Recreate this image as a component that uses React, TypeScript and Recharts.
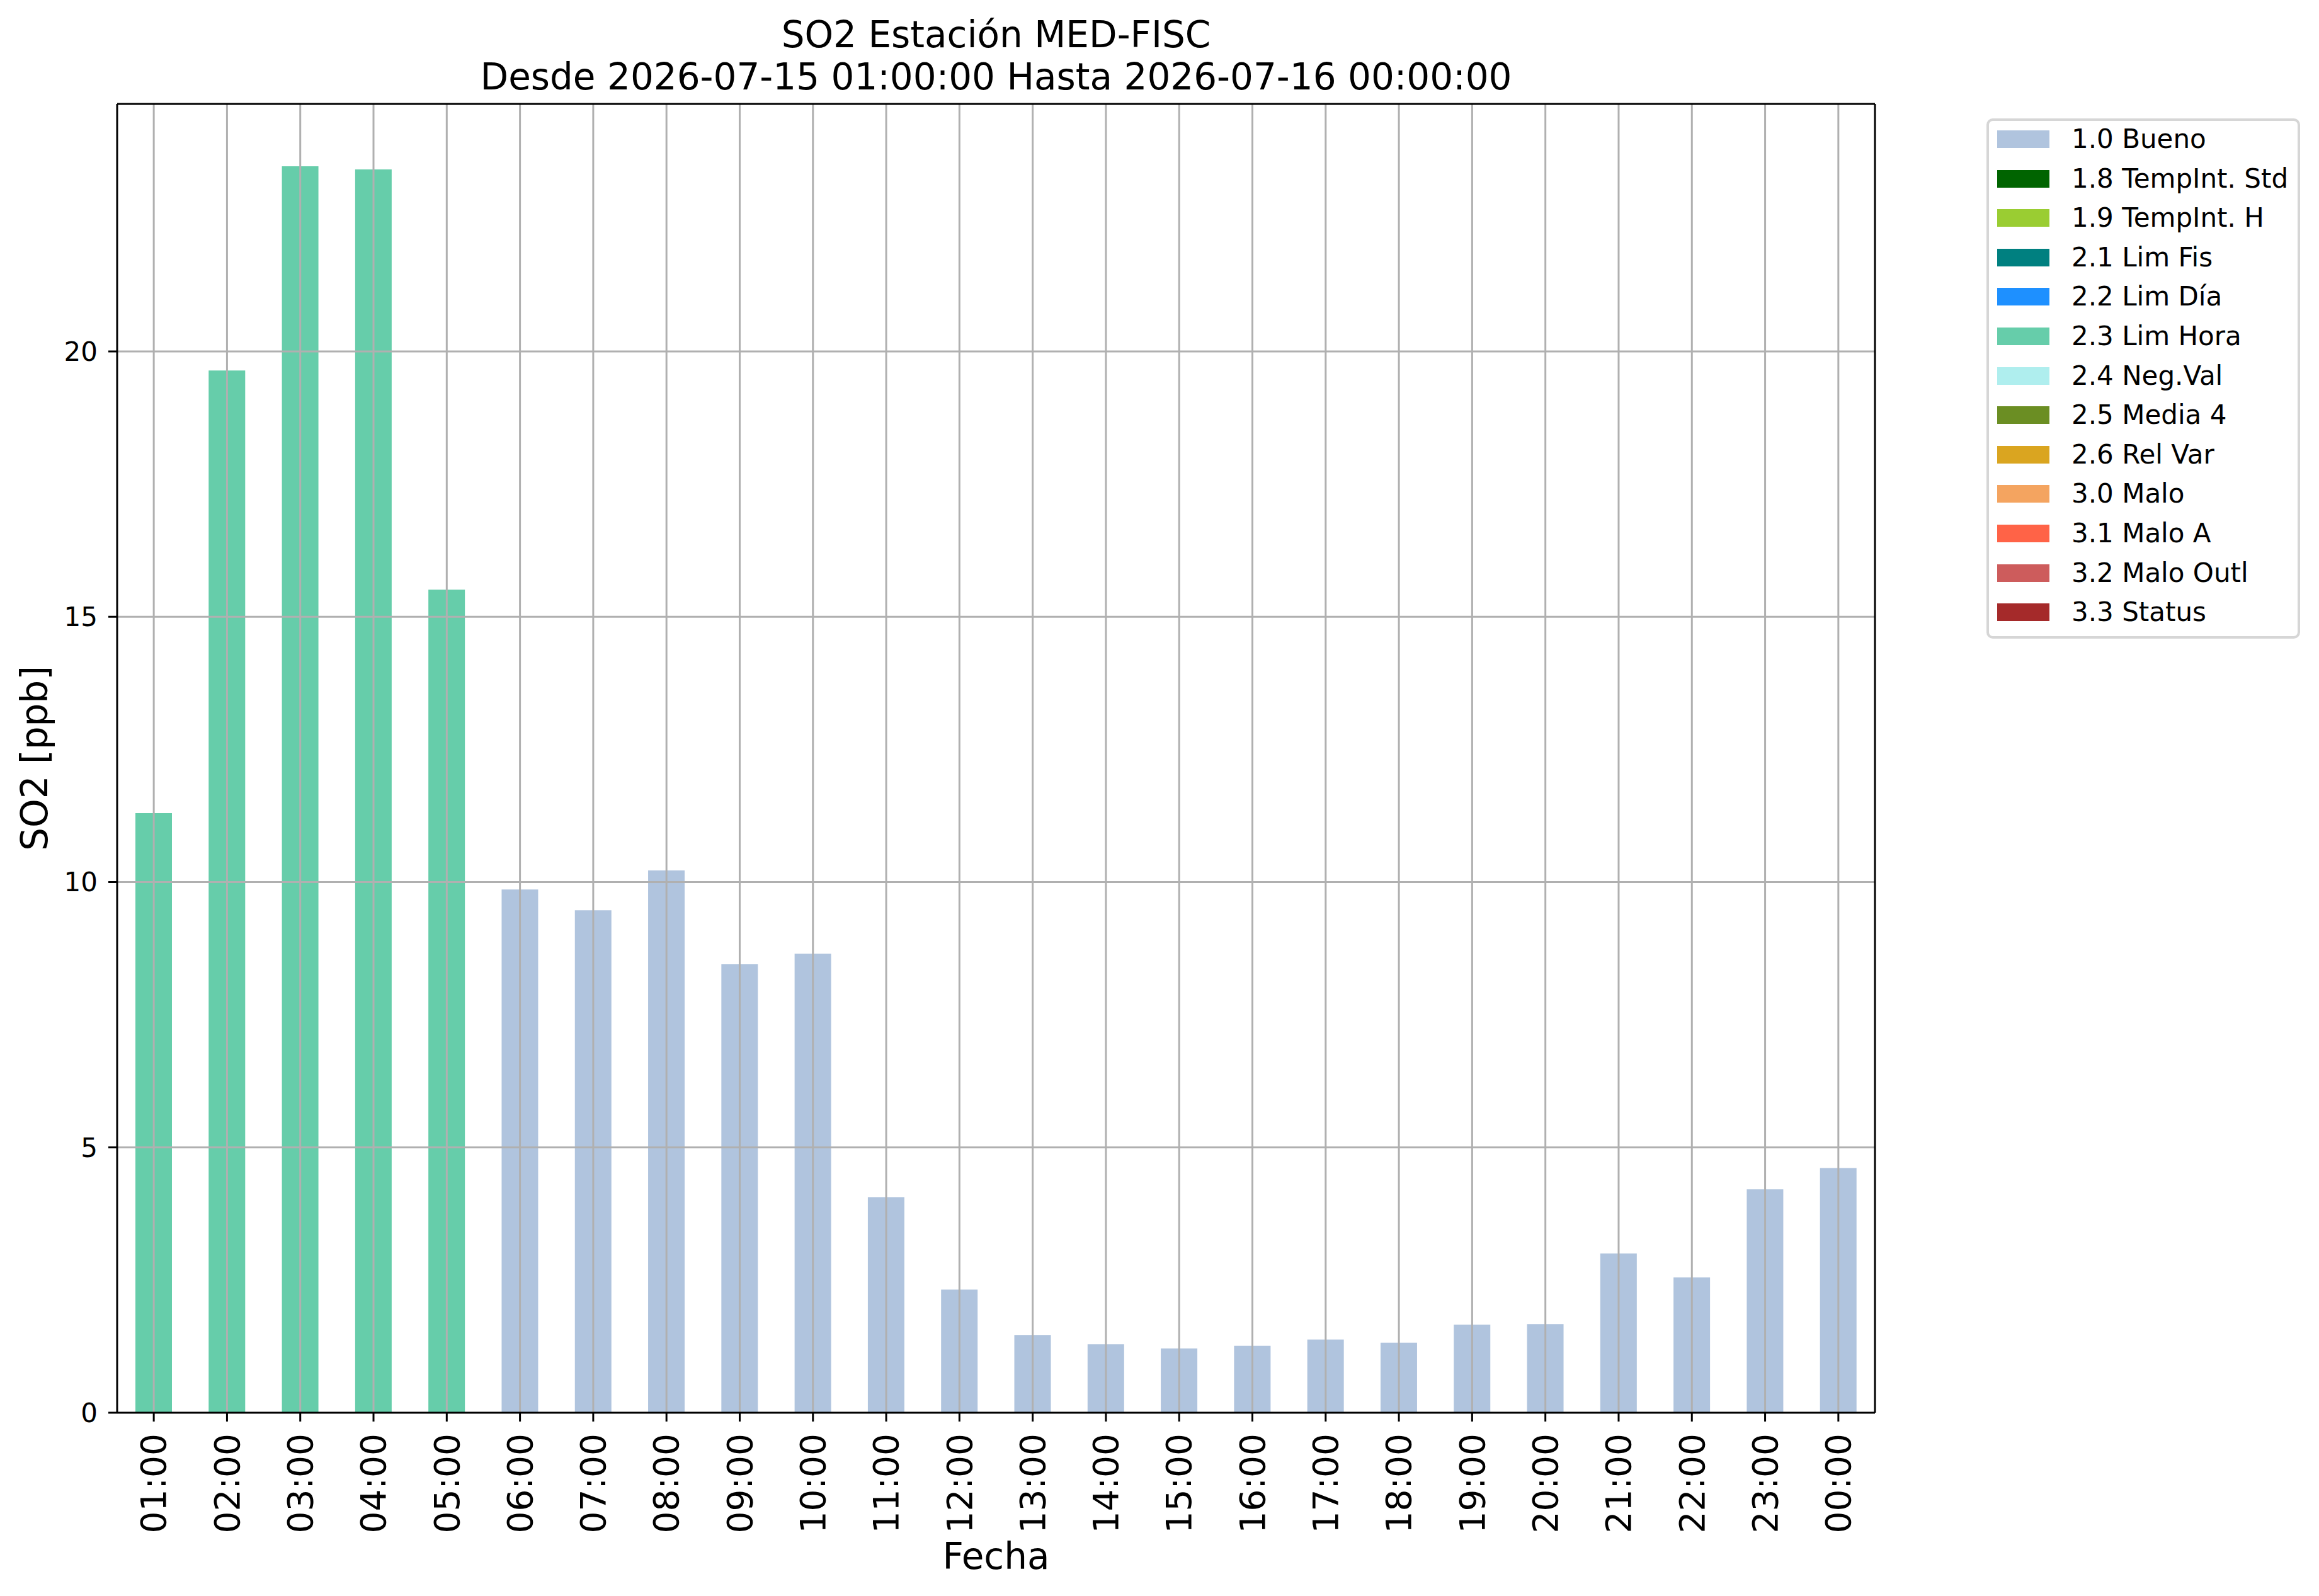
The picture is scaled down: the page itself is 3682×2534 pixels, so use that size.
import React from 'react';
import { BarChart, Bar, XAxis, YAxis, ReferenceLine, Legend } from 'recharts';

// ---------- data ----------
const horas = [
  '01:00', '02:00', '03:00', '04:00', '05:00', '06:00', '07:00', '08:00',
  '09:00', '10:00', '11:00', '12:00', '13:00', '14:00', '15:00', '16:00',
  '17:00', '18:00', '19:00', '20:00', '21:00', '22:00', '23:00', '00:00',
];
const so2Valores = [
  11.3, 19.64, 23.49, 23.43, 15.51, 9.86, 9.47, 10.22,
  8.45, 8.65, 4.06, 2.32, 1.46, 1.29, 1.21, 1.26,
  1.38, 1.32, 1.66, 1.67, 3.0, 2.55, 4.21, 4.61,
];
const banderas = [
  '2.3', '2.3', '2.3', '2.3', '2.3', '1.0', '1.0', '1.0',
  '1.0', '1.0', '1.0', '1.0', '1.0', '1.0', '1.0', '1.0',
  '1.0', '1.0', '1.0', '1.0', '1.0', '1.0', '1.0', '1.0',
];
const codigosBandera = ['1.0', '1.8', '1.9', '2.1', '2.2', '2.3', '2.4', '2.5', '2.6', '3.0', '3.1', '3.2', '3.3'];
const etiquetasBandera = [
  '1.0 Bueno', '1.8 TempInt. Std', '1.9 TempInt. H', '2.1 Lim Fis', '2.2 Lim Día',
  '2.3 Lim Hora', '2.4 Neg.Val', '2.5 Media 4', '2.6 Rel Var', '3.0 Malo',
  '3.1 Malo A', '3.2 Malo Outl', '3.3 Status',
];
const coloresBandera = [
  '#B0C4DE', '#006400', '#9ACD32', '#008080', '#1E90FF', '#66CDAA', '#AFEEEE',
  '#6B8E23', '#DAA520', '#F4A460', '#FF6347', '#CD5C5C', '#A52A2A',
];
const yTicks = [0, 5, 10, 15, 20];
const titulo1 = 'SO2 Estación MED-FISC';
const titulo2 = 'Desde 2026-07-15 01:00:00 Hasta 2026-07-16 00:00:00';
const etiquetaX = 'Fecha';
const etiquetaY = 'SO2 [ppb]';

// ---------- derived table ----------
const yMax = Math.max(...so2Valores) * 1.05;
const datos = horas.map((hora, i) => {
  const fila: Record<string, string | number> = { hora };
  codigosBandera.forEach((c, k) => {
    fila[`q${k}`] = banderas[i] === c ? so2Valores[i] : 0;
  });
  return fila;
});

// ---------- layout ----------
const W = 3682;
const H = 2534;
const PLOT_LEFT = 186;
const PLOT_TOP = 165;
const PLOT_RIGHT = 2977;
const PLOT_BOTTOM = 2243;
const FONT = 'DejaVu Sans, Verdana, sans-serif';
const BIG = 58;
const XTICK = 55;
const SMALL = 42;
const GRID = '#b0b0b0';

const XTick = (props: any) => {
  const { x, y, payload } = props;
  return (
    <text
      x={x}
      y={y}
      transform={`rotate(-90 ${x} ${y})`}
      textAnchor="end"
      dy="0.35em"
      fontSize={XTICK}
      fontFamily={FONT}
      fill="#000"
    >
      {payload.value}
    </text>
  );
};

const LegendBox = () => (
  <div
    style={{
      boxSizing: 'border-box',
      width: 498,
      border: '4px solid #d6d6d6',
      borderRadius: 10,
      background: '#fff',
      paddingTop: 8,
      paddingBottom: 17,
      fontFamily: FONT,
      fontSize: SMALL,
      color: '#000',
    }}
  >
    {etiquetasBandera.map((lab, k) => (
      <div
        key={lab}
        style={{
          display: 'flex',
          alignItems: 'center',
          height: 42,
          marginTop: k === 0 ? 0 : 20.6,
          whiteSpace: 'nowrap',
          lineHeight: '42px',
        }}
      >
        <span
          style={{
            display: 'inline-block',
            width: 83,
            height: 28,
            marginLeft: 13,
            marginRight: 35,
            background: coloresBandera[k],
          }}
        />
        <span>{lab}</span>
      </div>
    ))}
  </div>
);

export default function App() {
  const cx = (PLOT_LEFT + PLOT_RIGHT) / 2;
  const cy = (PLOT_TOP + PLOT_BOTTOM) / 2;
  const ultimaHora = horas[horas.length - 1];
  return (
    <div style={{ position: 'absolute', left: 0, top: 0, width: W, height: H, background: '#fff', overflow: 'hidden' }}>
      <BarChart
        width={W}
        height={H}
        data={datos}
        margin={{ top: PLOT_TOP, right: W - PLOT_RIGHT, bottom: 0, left: 0 }}
        barSize={58}
      >
        <XAxis
          dataKey="hora"
          height={H - PLOT_BOTTOM}
          interval={0}
          tickSize={14}
          tickMargin={19}
          tick={XTick}
          axisLine={{ stroke: '#000', strokeWidth: 3 }}
          tickLine={{ stroke: '#000', strokeWidth: 3 }}
        />
        <YAxis
          width={PLOT_LEFT}
          type="number"
          domain={[0, yMax]}
          ticks={yTicks}
          interval={0}
          tickSize={14}
          tickMargin={17}
          tick={{ fill: '#000', fontSize: SMALL, fontFamily: FONT }}
          axisLine={{ stroke: '#000', strokeWidth: 3 }}
          tickLine={{ stroke: '#000', strokeWidth: 3 }}
        />
        {codigosBandera.map((c, k) => (
          <Bar
            key={c}
            dataKey={`q${k}`}
            name={etiquetasBandera[k]}
            stackId="a"
            fill={coloresBandera[k]}
            isAnimationActive={false}
          />
        ))}
        {yTicks
          .filter((t) => t > 0)
          .map((t) => (
            <ReferenceLine key={`gy${t}`} y={t} stroke={GRID} strokeWidth={3} />
          ))}
        {horas.map((h) => (
          <ReferenceLine key={`gx${h}`} x={h} stroke={GRID} strokeWidth={3} />
        ))}
        {/* top and right spines */}
        <ReferenceLine y={yMax} stroke="#000" strokeWidth={3} ifOverflow="visible" />
        <ReferenceLine x={ultimaHora} position="end" stroke="#000" strokeWidth={3} ifOverflow="visible" />
        <Legend
          layout="vertical"
          align="center"
          verticalAlign="middle"
          content={() => <LegendBox />}
          wrapperStyle={{ left: 3154, top: 188, width: 498, height: 'auto' }}
        />
      </BarChart>
      <svg
        width={W}
        height={H}
        style={{ position: 'absolute', left: 0, top: 0, pointerEvents: 'none' }}
      >
        <text x={cx} y={75} textAnchor="middle" fontSize={BIG} fontFamily={FONT} fill="#000">
          {titulo1}
        </text>
        <text x={cx} y={142} textAnchor="middle" fontSize={BIG} fontFamily={FONT} fill="#000">
          {titulo2}
        </text>
        <text x={cx} y={2491} textAnchor="middle" fontSize={BIG} fontFamily={FONT} fill="#000">
          {etiquetaX}
        </text>
        <text
          x={75}
          y={cy}
          transform={`rotate(-90 75 ${cy})`}
          textAnchor="middle"
          fontSize={BIG}
          fontFamily={FONT}
          fill="#000"
        >
          {etiquetaY}
        </text>
      </svg>
    </div>
  );
}
